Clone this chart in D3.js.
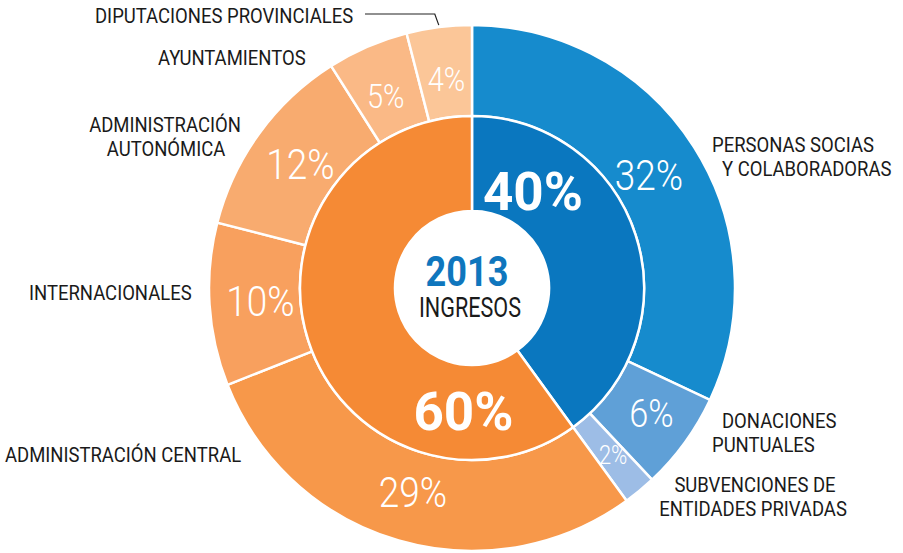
<!DOCTYPE html>
<html>
<head>
<meta charset="utf-8">
<style>
    body { margin: 0; background: #fff; }
    svg { display: block; }
    .label { font-family: Roboto, sans-serif; font-size: 21px; fill: #1a1a1a; }
    .pct { font-family: Roboto, sans-serif; font-weight: 300; fill: #fff; }
    .big { font-family: Roboto, sans-serif; font-weight: bold; fill: #fff; }
</style>
</head>
<body>
<svg width="903" height="553"></svg>
<script src="https://d3js.org/d3.v7.min.js"></script>
<script>
    // inner ring: blue vs orange totals
    let innerNames = ["Privados", "Públicos"]
    let innerValues = [40, 60]
    let innerColors = ["#0a77bf", "#f58a35"]

    // outer ring: breakdown (clockwise from the top)
    let outerNames = [
        "PERSONAS SOCIAS|Y COLABORADORAS",
        "DONACIONES|PUNTUALES",
        "SUBVENCIONES DE|ENTIDADES PRIVADAS",
        "ADMINISTRACIÓN CENTRAL",
        "INTERNACIONALES",
        "ADMINISTRACIÓN|AUTONÓMICA",
        "AYUNTAMIENTOS",
        "DIPUTACIONES PROVINCIALES"
    ]
    let outerValues = [32, 6, 2, 29, 10, 12, 5, 4]
    let outerColors = ["#168bcd", "#5fa0d7", "#9dbde6", "#f7984a", "#f8a05e", "#f8ab6f", "#fab986", "#fbc698"]

    let year = "2013"
    let subtitle = "INGRESOS"

    let cx = 472, cy = 288
    let rHole = 77, rInner = 172, rOuter = 263
    let narrow = 0.88 // horizontal squeeze to mimic the condensed typeface

    let svg = d3.select("svg")
    let g = svg.append("g").attr("transform", `translate(${cx},${cy})`)

    let pie = d3.pie().sort(null).value(d => d)

    let innerArcs = pie(innerValues)
    let outerArcs = pie(outerValues)

    let innerArc = d3.arc().innerRadius(rHole).outerRadius(rInner)
    let outerArc = d3.arc().innerRadius(rInner).outerRadius(rOuter)
    let labelArc = d3.arc().innerRadius(212).outerRadius(212)

    g.append("g")
        .selectAll("path")
        .data(outerArcs)
        .join("path")
        .attr("d", outerArc)
        .attr("fill", (d, i) => outerColors[i])
        .attr("stroke", "#fff")
        .attr("stroke-width", 2.5)

    g.append("g")
        .selectAll("path")
        .data(innerArcs)
        .join("path")
        .attr("d", innerArc)
        .attr("fill", (d, i) => innerColors[i])
        .attr("stroke", "#fff")
        .attr("stroke-width", 2.5)

    // percentage sizes on the outer ring
    let pctSize = [42, 39, 25, 42, 42, 42, 33, 33]
    let pctNudge = [[-2, 0], [8, 0], [6, 4], [0, 0], [0, 0], [0, 0], [-2, 3], [1, 1]]

    g.append("g")
        .selectAll("text")
        .data(outerArcs)
        .join("text")
        .attr("class", "pct")
        .attr("transform", (d, i) => {
            let c = labelArc.centroid(d)
            return `translate(${c[0] + pctNudge[i][0]},${c[1] + pctNudge[i][1]}) scale(0.88,1)`
        })
        .attr("text-anchor", "middle")
        .attr("dy", "0.36em")
        .style("font-size", (d, i) => pctSize[i] + "px")
        .text(d => d.data + "%")

    // inner ring percentages placed by angle (deg) and radius
    let innerPos = [[32, 115], [184, 123]]
    g.append("g")
        .selectAll("text")
        .data(innerArcs)
        .join("text")
        .attr("class", "big")
        .attr("transform", (d, i) => {
            let x = Math.sin(innerPos[i][0] * Math.PI / 180) * innerPos[i][1]
            let y = -Math.cos(innerPos[i][0] * Math.PI / 180) * innerPos[i][1]
            return `translate(${x},${y})`
        })
        .attr("dy", "0.36em")
        .attr("text-anchor", "middle")
        .style("font-size", "53px")
        .text(d => d.data + "%")

    // centre
    g.append("text")
        .attr("class", "big")
        .attr("transform", "translate(-5,-2) scale(0.86,1)")
        .attr("text-anchor", "middle")
        .style("font-size", "42px")
        .style("fill", "#0f76bd")
        .text(year)

    g.append("text")
        .attr("class", "label")
        .attr("transform", "translate(-2,29) scale(0.8,1)")
        .attr("text-anchor", "middle")
        .style("font-size", "27px")
        .text(subtitle)

    // outside category labels: [x, baseline, anchor, second line x]
    let labelPos = [
        [712, 152, "start", 722],
        [722, 428, "start", 712],
        [755, 492, "middle", 753],
        [5, 462, "start"],
        [29, 300, "start"],
        [165, 132, "middle", 166],
        [158, 65, "start"],
        [95, 23, "start"]
    ]

    outerNames.forEach((name, i) => {
        let p = labelPos[i]
        let lines = name.split("|")
        lines.forEach((line, j) => {
            let x = j == 0 ? p[0] : p[3]
            svg.append("text")
                .attr("class", "label")
                .attr("text-anchor", p[2])
                .attr("transform", `translate(${x},${p[1] + j * 24}) scale(${narrow},1)`)
                .text(line)
        })
    })

    // leader line for the 4% slice
    let a = outerArcs[7]
    let mid = (a.startAngle + a.endAngle) / 2
    let ex = cx + Math.sin(mid) * (rOuter + 2)
    let ey = cy - Math.cos(mid) * (rOuter + 2)
    svg.append("path")
        .attr("d", `M365,14 L${ex - 4},14 L${ex},${ey}`)
        .attr("fill", "none")
        .attr("stroke", "#222")
        .attr("stroke-width", 1.2)
</script>
</body>
</html>
